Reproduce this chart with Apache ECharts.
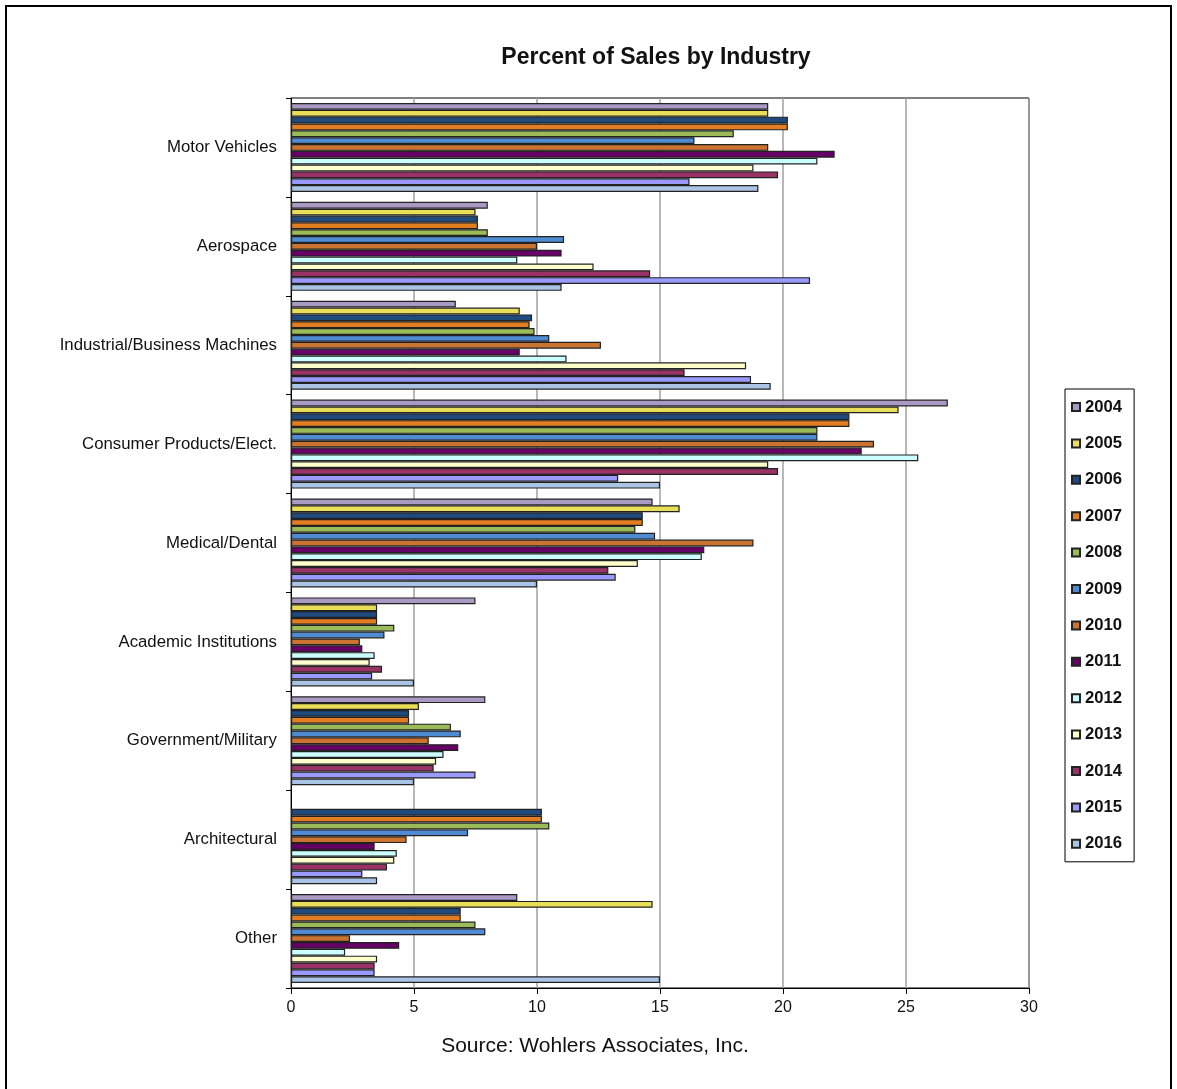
<!DOCTYPE html>
<html>
<head>
<meta charset="utf-8">
<title>Percent of Sales by Industry</title>
<script src="https://cdn.jsdelivr.net/npm/echarts@6/dist/echarts.min.js"></script>
<style>
  html, body { margin: 0; padding: 0; background: #fff; }
  #chart { width: 1177px; height: 1089px; }
</style>
</head>
<body>
<div id="chart"></div>
<script>
// Industries, listed top to bottom
const industries = [
  'Motor Vehicles', 'Aerospace', 'Industrial/Business Machines',
  'Consumer Products/Elect.', 'Medical/Dental', 'Academic Institutions',
  'Government/Military', 'Architectural', 'Other'
];

const years = ['2004', '2005', '2006', '2007', '2008', '2009', '2010',
               '2011', '2012', '2013', '2014', '2015', '2016'];

const yearColors = ['#a99ac4', '#e8de58', '#1f4a7e', '#e27d22', '#9bbb59', '#4f8bd2',
                    '#cb7331', '#660066', '#ccffff', '#ffffcc', '#993366', '#9999ff', '#aac4e5'];

// Percent of sales per industry, one array per year (same order as industries)
const y2004 = [19.4, 8.0, 6.7, 26.7, 14.7, 7.5, 7.9, null, 9.2];
const y2005 = [19.4, 7.5, 9.3, 24.7, 15.8, 3.5, 5.2, null, 14.7];
const y2006 = [20.2, 7.6, 9.8, 22.7, 14.3, 3.5, 4.8, 10.2, 6.9];
const y2007 = [20.2, 7.6, 9.7, 22.7, 14.3, 3.5, 4.8, 10.2, 6.9];
const y2008 = [18.0, 8.0, 9.9, 21.4, 14.0, 4.2, 6.5, 10.5, 7.5];
const y2009 = [16.4, 11.1, 10.5, 21.4, 14.8, 3.8, 6.9, 7.2, 7.9];
const y2010 = [19.4, 10.0, 12.6, 23.7, 18.8, 2.8, 5.6, 4.7, 2.4];
const y2011 = [22.1, 11.0, 9.3, 23.2, 16.8, 2.9, 6.8, 3.4, 4.4];
const y2012 = [21.4, 9.2, 11.2, 25.5, 16.7, 3.4, 6.2, 4.3, 2.2];
const y2013 = [18.8, 12.3, 18.5, 19.4, 14.1, 3.2, 5.9, 4.2, 3.5];
const y2014 = [19.8, 14.6, 16.0, 19.8, 12.9, 3.7, 5.8, 3.9, 3.4];
const y2015 = [16.2, 21.1, 18.7, 13.3, 13.2, 3.3, 7.5, 2.9, 3.4];
const y2016 = [19.0, 11.0, 19.5, 15.0, 10.0, 5.0, 5.0, 3.5, 15.0];

const yearValues = [y2004, y2005, y2006, y2007, y2008, y2009, y2010,
                    y2011, y2012, y2013, y2014, y2015, y2016];

const xTicks = { min: 0, max: 30, interval: 5 };

const sans = '"Liberation Sans", Arial, sans-serif';

const chart = echarts.init(document.getElementById('chart'), null, { renderer: 'canvas' });

const series = years.map((yr, i) => ({
  name: yr,
  type: 'bar',
  data: yearValues[i],
  barGap: 0,
  barCategoryGap: '10%',
  itemStyle: { color: yearColors[i], borderColor: '#222', borderWidth: 1.2 },
  emphasis: { disabled: true },
  animation: false
}));

chart.setOption({
  animation: false,
  backgroundColor: '#fff',
  title: [
    {
      text: 'Percent of Sales by Industry',
      left: 651, top: 41, textAlign: 'center',
      textStyle: { fontFamily: sans, fontSize: 23, fontWeight: 'bold', color: '#111' }
    },
    {
      text: 'Source: Wohlers Associates, Inc.',
      left: 590, top: 1031, textAlign: 'center',
      textStyle: { fontFamily: sans, fontSize: 21, fontWeight: 'normal', color: '#111' }
    }
  ],
  legend: {
    orient: 'vertical',
    left: 1065, top: 389,
    padding: [8, 12, 8, 6],
    borderColor: '#000', borderWidth: 1,
    itemWidth: 8, itemHeight: 8, itemGap: 16.4,
    icon: 'rect',
    selectedMode: false,
    data: years,
    textStyle: { fontFamily: sans, fontSize: 16.7, fontWeight: 'bold', color: '#111', lineHeight: 20 }
  },
  grid: {
    left: 291, right: 148, top: 98, bottom: 101,
    show: true, borderColor: '#000', borderWidth: 1, backgroundColor: 'transparent'
  },
  xAxis: {
    type: 'value',
    min: xTicks.min, max: xTicks.max, interval: xTicks.interval,
    axisLine: { show: true, lineStyle: { color: '#000', width: 1 } },
    axisTick: { show: true, length: 6, lineStyle: { color: '#000' } },
    axisLabel: { fontFamily: sans, fontSize: 16, color: '#111', margin: 12 },
    splitLine: { show: true, lineStyle: { color: '#a0a0a0', width: 1.5 } }
  },
  yAxis: {
    type: 'category',
    inverse: true,
    data: industries,
    axisLine: { show: true, lineStyle: { color: '#000', width: 1 } },
    axisTick: { show: true, length: 5, lineStyle: { color: '#000' } },
    axisLabel: { fontFamily: sans, fontSize: 16.8, color: '#111', margin: 14 },
    splitLine: { show: false }
  },
  graphic: [
    {
      type: 'rect', silent: true,
      shape: { x: 6, y: 6, width: 1165, height: 1100 },
      style: { fill: 'none', stroke: '#000', lineWidth: 2 }
    }
  ],
  series: series
});
</script>
</body>
</html>
